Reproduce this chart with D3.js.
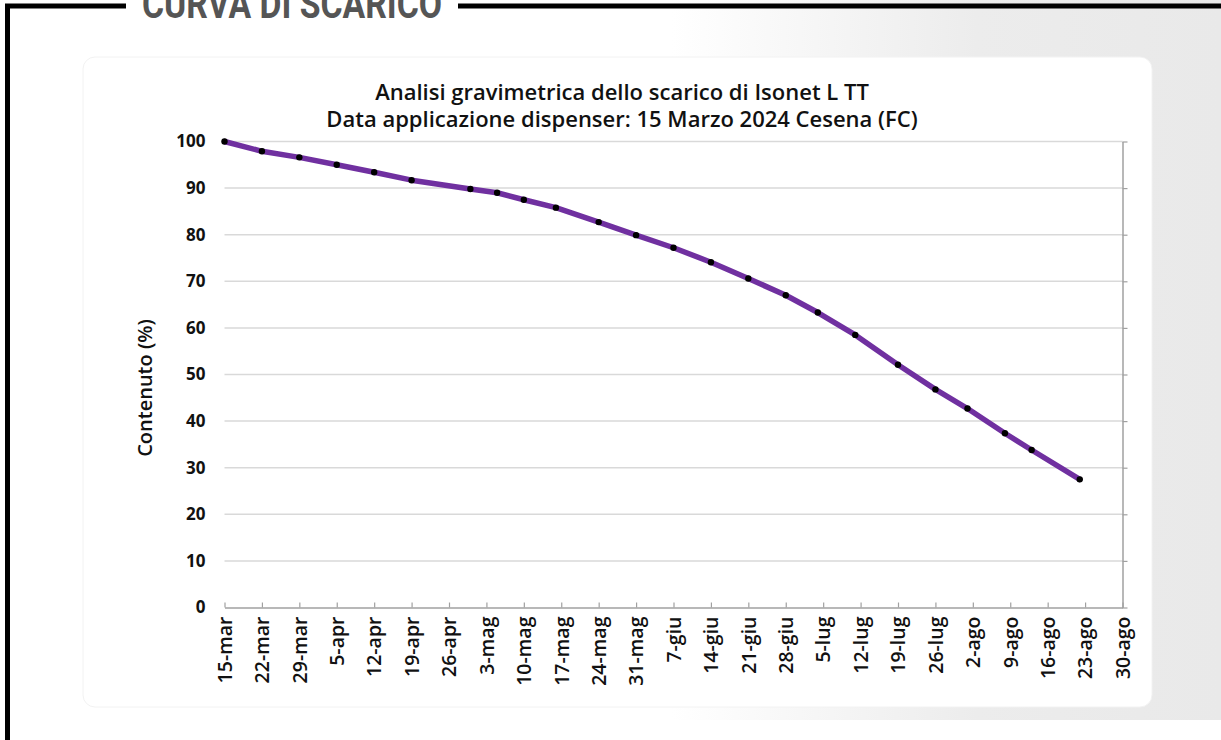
<!DOCTYPE html>
<html>
<head>
<meta charset="utf-8">
<script src="https://cdn.jsdelivr.net/npm/d3@7"></script>
<style>
  body { margin: 0; background: #fff; }
  svg { display: block; }
</style>
</head>
<body>
<script>
// dates of the weighings (2024) and remaining content in %
var dates = ['2024-03-15', '2024-03-22', '2024-03-29', '2024-04-05', '2024-04-12', '2024-04-19',
  '2024-04-30', '2024-05-05', '2024-05-10', '2024-05-16', '2024-05-24', '2024-05-31',
  '2024-06-07', '2024-06-14', '2024-06-21', '2024-06-28', '2024-07-04', '2024-07-11',
  '2024-07-19', '2024-07-26', '2024-08-01', '2024-08-08', '2024-08-13', '2024-08-22']
var contenuto = [100, 97.9, 96.6, 95.0, 93.4, 91.7,
  89.8, 89.0, 87.5, 85.8, 82.7, 79.9,
  77.2, 74.1, 70.6, 67.0, 63.3, 58.5,
  52.1, 46.8, 42.7, 37.4, 33.8, 27.5]
var tickLabels = ['15-mar', '22-mar', '29-mar', '5-apr', '12-apr', '19-apr', '26-apr', '3-mag',
  '10-mag', '17-mag', '24-mag', '31-mag', '7-giu', '14-giu', '21-giu', '28-giu', '5-lug',
  '12-lug', '19-lug', '26-lug', '2-ago', '9-ago', '16-ago', '23-ago', '30-ago']
var yTicks = [0, 10, 20, 30, 40, 50, 60, 70, 80, 90, 100]
var titleLines = ['Analisi gravimetrica dello scarico di Isonet L TT',
  'Data applicazione dispenser: 15 Marzo 2024 Cesena (FC)']

var mesi = {gen: 0, feb: 1, mar: 2, apr: 3, mag: 4, giu: 5, lug: 6, ago: 7, set: 8, ott: 9, nov: 10, dic: 11}
var parse = d3.timeParse('%Y-%m-%d')
var tickDates = tickLabels.map(function (s) {
  var p = s.split('-')
  return new Date(2024, mesi[p[1]], +p[0])
})
var data = dates.map(function (d, i) {
  return {date: parse(d), v: contenuto[i]}
})

var W = 1221, H = 740
var font = '"Open Sans", "Noto Sans", sans-serif'

var svg = d3.select('body').append('svg')
  .attr('width', W)
  .attr('height', H)

var defs = svg.append('defs')
var grad = defs.append('linearGradient')
  .attr('id', 'bg')
  .attr('x1', 0).attr('x2', 1).attr('y1', 0).attr('y2', 0)
grad.append('stop').attr('offset', 0).attr('stop-color', '#ffffff')
grad.append('stop').attr('offset', 0.55).attr('stop-color', '#ffffff')
grad.append('stop').attr('offset', 0.8).attr('stop-color', '#ececec')
grad.append('stop').attr('offset', 1).attr('stop-color', '#e9e9e9')

svg.append('rect')
  .attr('x', 0).attr('y', 0)
  .attr('width', W).attr('height', 720)
  .attr('fill', 'url(#bg)')

// white card
svg.append('rect')
  .attr('x', 83).attr('y', 57)
  .attr('width', 1069).attr('height', 650)
  .attr('rx', 12)
  .attr('fill', '#fff')
  .attr('stroke', '#f2f2f2')

// black frame with heading
svg.append('path')
  .attr('d', 'M7.5,740 V6 H126 M458,6 H' + W)
  .attr('fill', 'none')
  .attr('stroke', '#000')
  .attr('stroke-width', 5)
svg.append('text')
  .attr('x', 142)
  .attr('y', 18)
  .attr('textLength', 300)
  .attr('lengthAdjust', 'spacingAndGlyphs')
  .style('font-family', '"Liberation Sans Narrow", Roboto, sans-serif')
  .style('font-weight', 700)
  .style('font-size', '40px')
  .attr('fill', '#555')
  .text('CURVA DI SCARICO')

var x = d3.scaleTime()
  .domain([tickDates[0], tickDates[tickDates.length - 1]])
  .range([224.5, 1122.5])
var y = d3.scaleLinear()
  .domain([0, 100])
  .range([607.5, 141.5])

// gridlines
svg.append('g')
  .selectAll('line')
  .data(yTicks.slice(1))
  .enter()
  .append('line')
  .attr('x1', x.range()[0])
  .attr('x2', x.range()[1])
  .attr('y1', function (d) { return y(d) })
  .attr('y2', function (d) { return y(d) })
  .attr('stroke', '#d9d9d9')
  .attr('stroke-width', 1.5)

// right axis with outward ticks
var right = svg.append('g')
  .attr('transform', 'translate(' + x.range()[1] + ',0)')
  .call(d3.axisRight(y).tickValues(yTicks).tickSize(5).tickSizeOuter(0).tickFormat(''))
right.select('.domain').attr('stroke', '#a0a0a0').attr('stroke-width', 1.5)
right.selectAll('.tick line').attr('stroke', '#a0a0a0').attr('stroke-width', 1.2)

// left labels
var left = svg.append('g')
  .attr('transform', 'translate(' + x.range()[0] + ',0)')
  .call(d3.axisLeft(y).tickValues(yTicks).tickSize(0).tickPadding(19))
left.select('.domain').remove()
left.selectAll('text')
  .style('font-family', font)
  .style('font-size', '17px')
  .style('font-weight', 700)
  .attr('fill', '#111')

// bottom axis
var bottom = svg.append('g')
  .attr('transform', 'translate(0,' + y(0) + ')')
  .call(d3.axisBottom(x).tickValues(tickDates).tickSize(-5).tickSizeOuter(0)
    .tickFormat(function (d, i) { return tickLabels[i] }))
bottom.select('.domain').attr('stroke', '#a0a0a0').attr('stroke-width', 1.5)
bottom.selectAll('.tick line').attr('stroke', '#a0a0a0').attr('stroke-width', 1.2)
bottom.selectAll('text')
  .attr('transform', 'rotate(-90)')
  .attr('x', -9)
  .attr('y', 0)
  .attr('dy', '0.35em')
  .attr('text-anchor', 'end')
  .style('font-family', font)
  .style('font-size', '19.5px')
  .style('font-weight', 600)
  .attr('fill', '#111')

// axis title
svg.append('text')
  .attr('transform', 'translate(152,388) rotate(-90)')
  .attr('text-anchor', 'middle')
  .style('font-family', font)
  .style('font-size', '20px')
  .style('font-weight', 600)
  .attr('fill', '#111')
  .text('Contenuto (%)')

// chart title, two lines in one text
var title = svg.append('text')
  .attr('text-anchor', 'middle')
  .style('font-family', font)
  .style('font-size', '22px')
  .style('font-weight', 600)
  .attr('fill', '#111')
title.selectAll('tspan')
  .data(titleLines)
  .enter()
  .append('tspan')
  .attr('x', 622)
  .attr('y', function (d, i) { return 100 + i * 27 })
  .text(function (d) { return d })

// curve
var line = d3.line()
  .x(function (d) { return x(d.date) })
  .y(function (d) { return y(d.v) })
svg.append('path')
  .datum(data)
  .attr('d', line)
  .attr('fill', 'none')
  .attr('stroke', '#7030a0')
  .attr('stroke-width', 5.5)
  .attr('stroke-linejoin', 'round')
  .attr('stroke-linecap', 'round')

svg.append('g')
  .selectAll('circle')
  .data(data)
  .enter()
  .append('circle')
  .attr('cx', function (d) { return x(d.date) })
  .attr('cy', function (d) { return y(d.v) })
  .attr('r', 3.2)
  .attr('fill', '#000')
</script>
</body>
</html>
